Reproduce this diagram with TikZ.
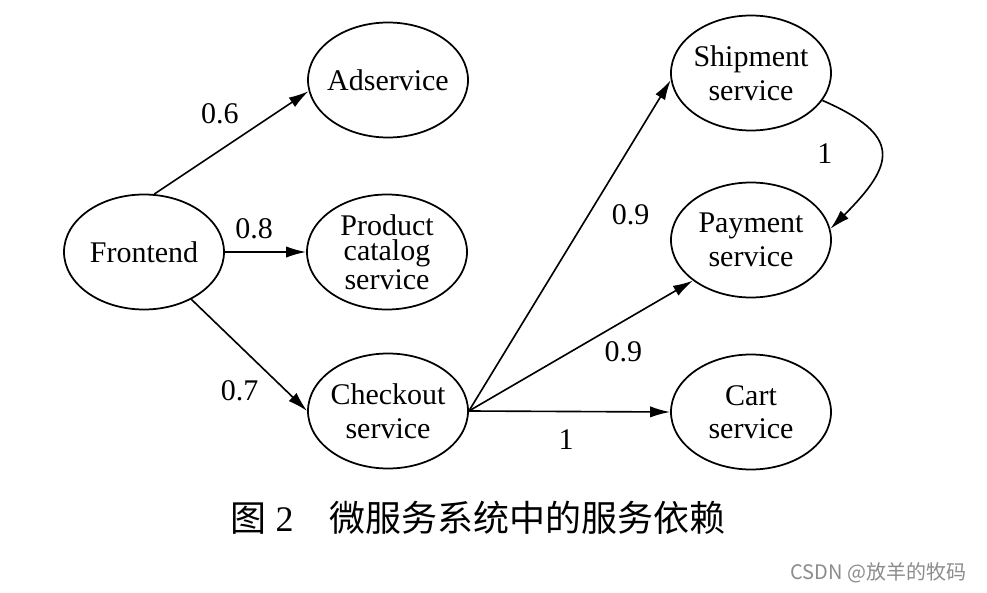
\documentclass[tikz,border=0pt]{standalone}
\usepackage{fontspec}
\setmainfont{Liberation Serif}
\newfontfamily\cjk{Noto Sans CJK SC}
\usepackage{tikz}
\usetikzlibrary{arrows.meta, shapes.geometric}

\begin{document}
\begin{tikzpicture}[
    x=0.4pt, y=-0.4pt,
    svc/.style={
        ellipse,
        draw,
        line width=0.7pt,
        minimum width=64pt,
        minimum height=46pt,
        inner xsep=-3pt,
        inner ysep=0pt,
        align=center,
        font=\fontsize{12}{13.4}\selectfont
    },
    arrow/.style={
        -{Latex[length=8pt, width=4.5pt]},
        line width=0.65pt
    },
    weight/.style={
        inner sep=1pt,
        font=\fontsize{12}{14}\selectfont
    }
]
\fill[white] (0,0) rectangle (987,593);
\useasboundingbox (0,0) rectangle (987,593);

% Services
\node[svc] (front) at (144,252) {Frontend};
\node[svc] (ad) at (388,80) {Adservice};
\node[svc, font=\fontsize{12}{10.2}\selectfont] (catalog) at (387,252) {Product\\catalog\\service};
\node[svc] (check) at (388,411) {Checkout\\service};
\node[svc] (ship) at (751,73) {Shipment\\service};
\node[svc] (pay) at (751,240) {Payment\\service};
\node[svc] (cart) at (751,412) {Cart\\service};

% Calls from the frontend
\draw[arrow] (front.80) -- node[weight, pos=.6, above left=2pt] {0.6} (ad.188);
\draw[arrow] (front.east) -- node[weight, pos=.36, above=4pt] {0.8} (catalog.west);
\draw[arrow] (front.-45) -- node[weight, pos=.65, below left=2pt] {0.7} (check.west);

% Calls from checkout
\draw[arrow] (check.east) -- node[weight, pos=.655, below right=3pt] {0.9} (ship.185);
\draw[arrow] (check.east) -- node[weight, pos=.58, below right=1pt] {0.9} (pay.215);
\draw[arrow] (check.east) -- node[weight, pos=.483, below=6pt] {1} (cart.west);

% Shipment to payment
\draw[arrow] (ship.-21) .. controls +(80,35) and +(65,-65) .. (pay.8)
    node[weight, pos=.5, left=18pt] {1};

% Caption
\node[font=\fontsize{14.4}{17}\selectfont] (caption) at (478,518)
    {{\cjk 图}~2\quad{\cjk 微服务系统中的服务依赖}};
\node[font=\cjk\fontsize{8}{10}\selectfont, text=black!45, anchor=east] (mark) at (975,573)
    {CSDN @放羊的牧码};

\end{tikzpicture}
\end{document}
